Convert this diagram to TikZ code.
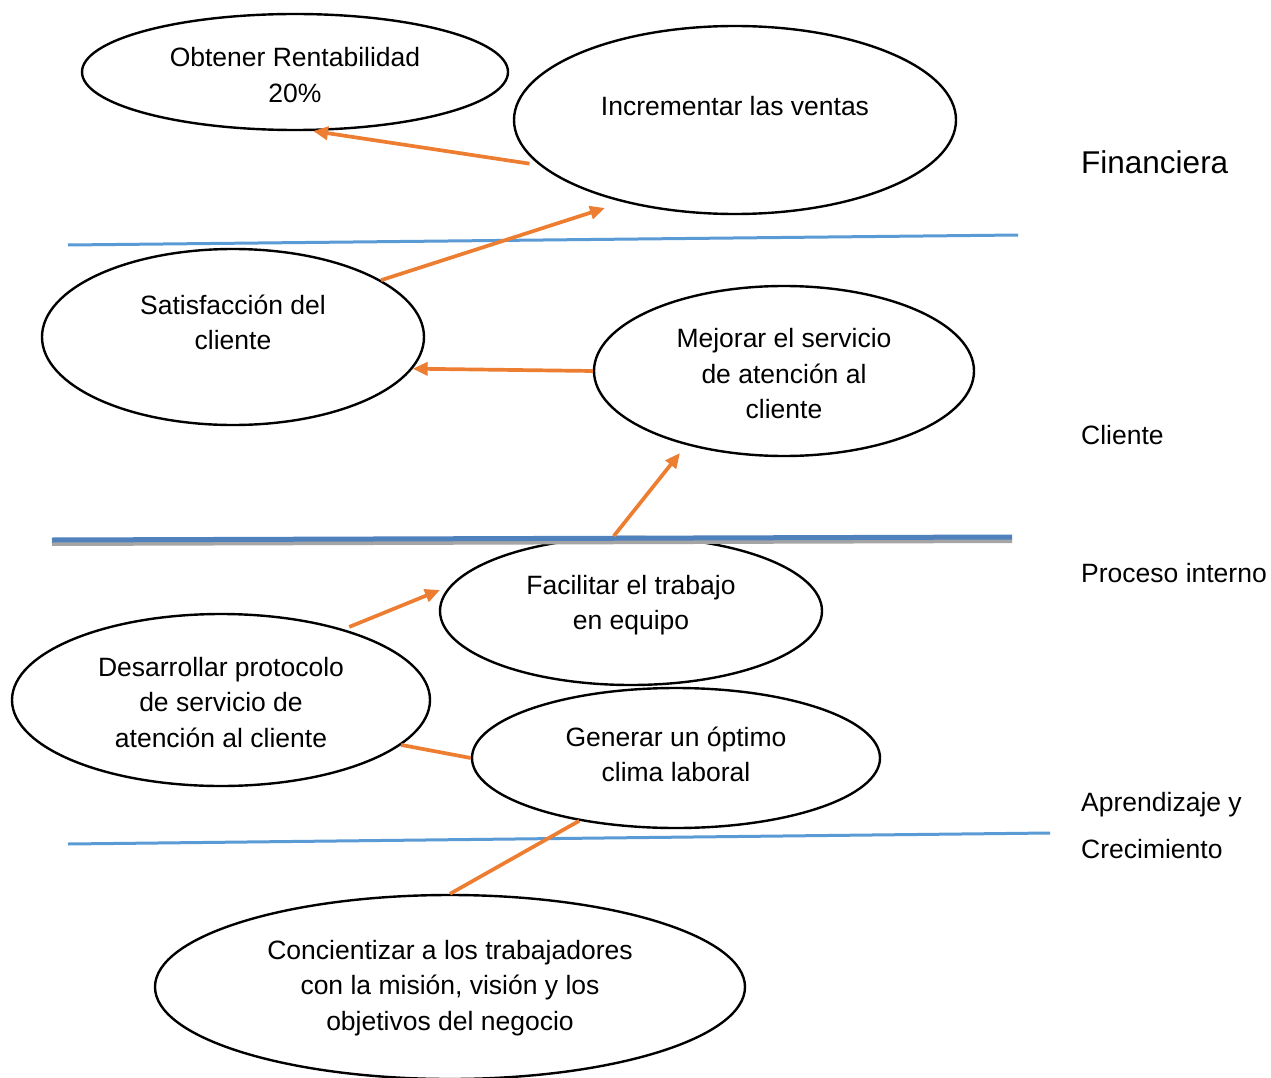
\documentclass[tikz,border=0pt]{standalone}
\usepackage{fontspec}
\setmainfont{Liberation Sans}
\usetikzlibrary{shapes.geometric,arrows.meta}
\definecolor{orng}{HTML}{ED7D31}
\definecolor{blu}{HTML}{5B9BD5}
\definecolor{blu2}{HTML}{4F81BD}
\definecolor{gry}{HTML}{A5A5A5}
\tikzset{
  ell/.style={ellipse, draw=black, line width=2.4pt, inner sep=0pt},
  txt/.style={align=center, font=\fontsize{26.5}{35.5}\selectfont, inner sep=0pt},
  side/.style={anchor=west, font=\fontsize{26.5}{35.5}\selectfont, inner sep=0pt},
  arr/.style={draw=orng, line width=3.7pt, -{Triangle[length=15pt,width=13pt]}},
  lnk/.style={draw=orng, line width=3.7pt},
  sep/.style={draw=blu, line width=3pt}
}
\begin{document}
\begin{tikzpicture}[x=1pt,y=-1pt]
\useasboundingbox (0,0) rectangle (1271,1078);
\clip (0,0) rectangle (1271,1078);
\fill[white] (0,0) rectangle (1271,1078);

% ellipses
\node[ell, minimum width=426pt, minimum height=116pt] (rent) at (295,72) {};
\node[ell, minimum width=442pt, minimum height=188pt] (inc) at (735,120) {};
\node[ell, minimum width=382pt, minimum height=176pt] (sat) at (233,337) {};
\node[ell, minimum width=380pt, minimum height=170pt] (mej) at (784,371) {};
\node[ell, minimum width=382pt, minimum height=148pt] (fac) at (631,611) {};
\node[ell, minimum width=418pt, minimum height=172pt] (des) at (221,700) {};
\node[ell, minimum width=408pt, minimum height=140pt] (gen) at (676,758) {};
\node[ell, minimum width=590pt, minimum height=184pt] (con) at (450,987) {};

% texts
\node[txt] (trent) at (295,75) {Obtener Rentabilidad\\20\%};
\node[txt] (tinc) at (735,106) {Incrementar las ventas};
\node[txt] (tsat) at (233,322.5) {Satisfacción del\\cliente};
\node[txt] (tmej) at (784,374) {Mejorar el servicio\\de atención al\\cliente};
\node[txt] (tfac) at (631,605) {Facilitar el trabajo\\en equipo};
\node[txt] (tdes) at (221,702.5) {Desarrollar protocolo\\de servicio de\\atención al cliente};
\node[txt] (tgen) at (676,754.5) {Generar un óptimo\\clima laboral};
\node[txt] (tcon) at (450,988) {Concientizar a los trabajadores\\con la misión, visión y los\\objetivos del negocio};

% side labels
\node[side, font=\fontsize{31.5}{38}\selectfont] (lfin) at (1081,162) {Financiera};
\node[side] (lcli) at (1081,435) {Cliente};
\node[side] (lpro) at (1081,573) {Proceso interno};
\node[side] (lapr) at (1081,805) {Aprendizaje y};
\node[side] (lcre) at (1081,849) {Crecimiento};

% separator lines
\coordinate (s1a) at (68,245);
\coordinate (s1b) at (1018,235);
\coordinate (s2a) at (52,544);
\coordinate (s2b) at (1012,541);
\coordinate (s2c) at (52,540);
\coordinate (s2d) at (1012,537);
\coordinate (s3a) at (68,844);
\coordinate (s3b) at (1050,833);
\draw[sep] (s1a) -- (s1b);
\draw[draw=gry, line width=4pt] (s2a) -- (s2b);
\draw[draw=blu2, line width=5pt] (s2c) -- (s2d);
\draw[sep] (s3a) -- (s3b);

% connectors
\coordinate (e2) at (605,208);
\coordinate (e4) at (680,453);
\coordinate (e5) at (440,590);
\draw[arr, shorten <=10pt] (inc.193.6) -- (rent.287.5);
\draw[arr] (sat.21.4) -- (e2);
\draw[arr] (mej.west) -- (sat.350.2);
\draw[arr] (fac.103.5) -- (e4);
\draw[arr, shorten <=6pt] (des.30) -- (e5);
\draw[lnk] (des.346.2) -- (gen.west);
\draw[lnk] (con.north) -- (gen.213.4);
\end{tikzpicture}
\end{document}
